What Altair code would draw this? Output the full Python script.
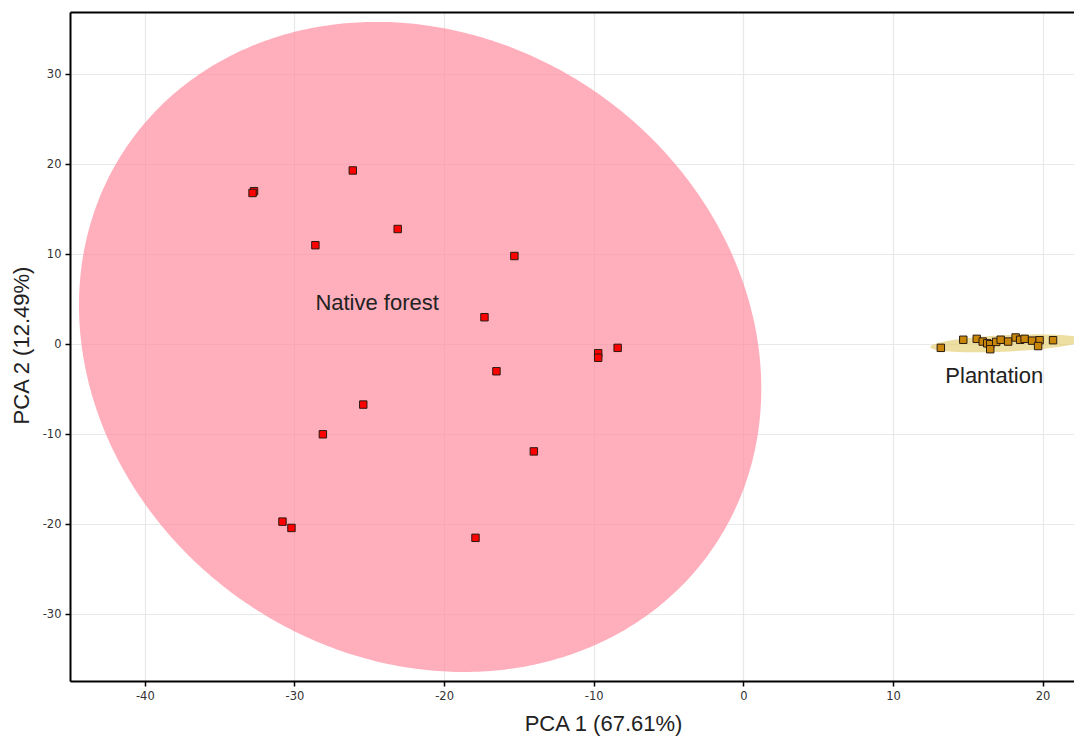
import altair as alt
import numpy as np
import pandas as pd

# ---- data ----
native_x = [-26.1, -32.7, -32.8, -28.6, -23.1, -15.3, -17.3, -8.4, -9.7, -9.7,
            -16.5, -25.4, -28.1, -14.0, -30.8, -30.2, -17.9]
native_y = [19.3, 17.0, 16.8, 11.0, 12.8, 9.8, 3.0, -0.4, -1.0, -1.5,
            -3.0, -6.7, -10.0, -11.9, -19.7, -20.4, -21.5]
plant_x = [13.2, 14.7, 15.6, 16.0, 16.3, 16.5, 16.5, 16.9, 17.2, 17.7,
           18.2, 18.5, 18.8, 19.3, 19.8, 19.7, 20.7]
plant_y = [-0.4, 0.5, 0.6, 0.3, 0.1, 0.0, -0.55, 0.26, 0.5, 0.3,
           0.75, 0.5, 0.6, 0.4, 0.45, -0.2, 0.45]

groups = ["Native forest", "Plantation"]
# confidence ellipses: centre, spread along x / y, correlation
ell_cx = [-21.6, 17.6]
ell_cy = [-0.3, 0.1]
ell_sx = [22.8, 5.1]
ell_sy = [36.1, 1.0]
ell_rho = [-0.128, 0.4]

label_x = [-28.6, 13.5]
label_y = [4.6, -3.55]

x_ticks = [-40, -30, -20, -10, 0, 10, 20]
y_ticks = [-30, -20, -10, 0, 10, 20, 30]
x_domain = [-45, 22.1]
y_domain = [-37.4, 36.9]

fill_colors = ["#ff8ca0", "#e6d27a"]
point_colors = ["#ff0000", "#c8860a"]

# ---- tables ----
pts = pd.DataFrame({
    "x": native_x + plant_x,
    "y": native_y + plant_y,
    "group": [groups[0]] * len(native_x) + [groups[1]] * len(plant_x),
})

rows = []
t = np.linspace(-np.pi / 2, np.pi / 2, 241)
for g, cx, cy, sx, sy, r in zip(groups, ell_cx, ell_cy, ell_sx, ell_sy, ell_rho):
    dx = sx * np.sin(t)
    mid = cy + r * sy / sx * dx
    half = sy * np.sqrt(1 - r ** 2) * np.cos(t)
    for k in range(len(t)):
        rows.append({"group": g, "x": cx + dx[k], "yl": mid[k] - half[k],
                     "yu": mid[k] + half[k]})
ell = pd.DataFrame(rows)

labels = pd.DataFrame({"x": label_x, "y": label_y, "text": groups})

xs = alt.Scale(domain=x_domain, nice=False, zero=False)
ys = alt.Scale(domain=y_domain, nice=False, zero=False)

lab_expr = "replace(datum.label, '\u2212', '-')"
x_axis = alt.Axis(values=x_ticks, title="PCA 1 (67.61%)", titleX=533, titleY=32,
                  titleBaseline="top", titleAlign="center", labelExpr=lab_expr)
y_axis = alt.Axis(values=y_ticks, title="PCA 2 (12.49%)", titleX=-37, titleY=333,
                  titleAlign="center", titleBaseline="bottom", labelExpr=lab_expr)

ellipses = alt.Chart(ell).mark_area(opacity=0.7, clip=True).encode(
    x=alt.X("x:Q", scale=xs, axis=x_axis),
    y=alt.Y("yl:Q", scale=ys, axis=y_axis, stack=None),
    y2="yu:Q",
    color=alt.Color("group:N", scale=alt.Scale(domain=groups, range=fill_colors), legend=None),
)

points = alt.Chart(pts).mark_point(shape="square", filled=True, size=55,
                                   stroke="#2a1a10", strokeWidth=1, opacity=1).encode(
    x=alt.X("x:Q", scale=xs, axis=x_axis),
    y=alt.Y("y:Q", scale=ys, axis=y_axis),
    fill=alt.Fill("group:N", scale=alt.Scale(domain=groups, range=point_colors), legend=None),
)

texts = alt.Chart(labels).mark_text(align="left", baseline="middle", fontSize=22,
                                    font="Liberation Sans", color="#222222").encode(
    x=alt.X("x:Q", scale=xs, axis=x_axis),
    y=alt.Y("y:Q", scale=ys, axis=y_axis),
    text="text:N",
)

top_frame = alt.Chart(labels).mark_point(opacity=0).encode(
    x=alt.X("x:Q", scale=xs, axis=alt.Axis(orient="top", labels=False, ticks=False,
                                            title=None, grid=False, domainColor="black",
                                            domainWidth=2)),
    y=alt.Y("y:Q", scale=ys, axis=y_axis),
)

main = alt.layer(ellipses, points, texts)
chart = alt.layer(main, top_frame).resolve_axis(x="independent").properties(
    width=1004, height=669,
    autosize=alt.AutoSizeParams(type="none"),
    padding={"left": 62, "top": 4, "right": 0, "bottom": 59},
).configure_view(stroke=None).configure_axis(
    grid=True, gridColor="#e8e8e8", gridWidth=1.2,
    domainColor="black", domainWidth=2,
    tickColor="black", tickSize=5, tickWidth=1.5,
    labelFont="DejaVu Sans", labelFontSize=11.5, labelColor="#333333", labelPadding=4,
    titleFont="Liberation Sans", titleFontSize=22, titleFontWeight="normal",
    titleColor="#222222",
)

chart.save("out.html", embed_options={"renderer": "svg", "actions": False})
